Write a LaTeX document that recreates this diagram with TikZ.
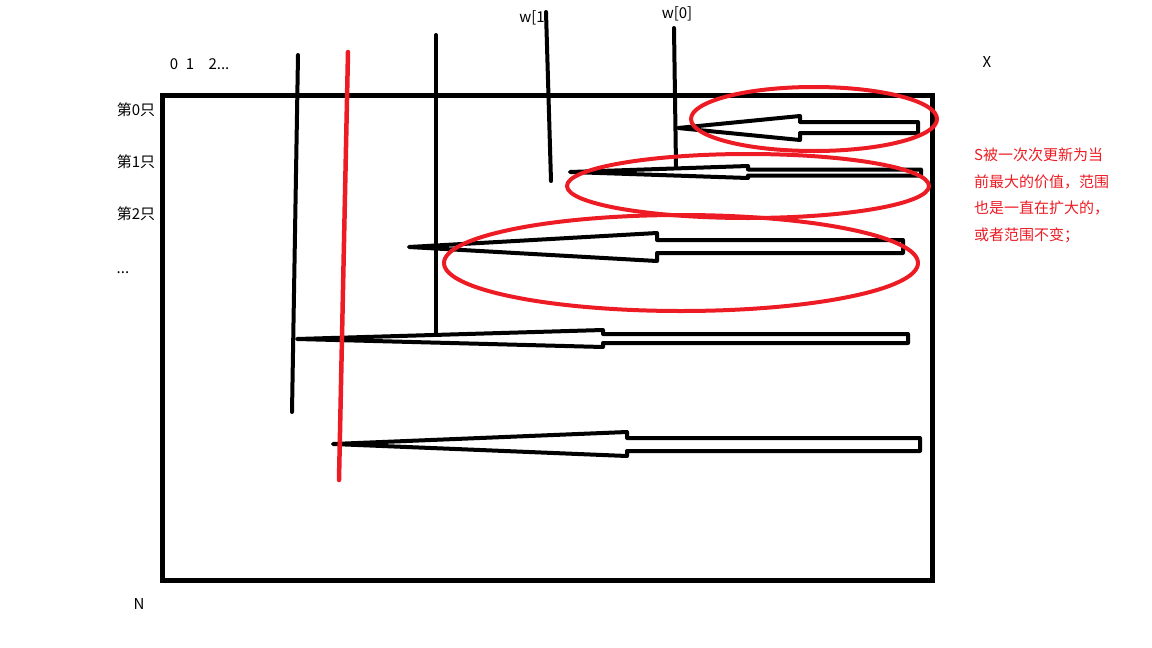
\documentclass[tikz,border=0pt]{standalone}
\usepackage{fontspec}
\newfontfamily\cjk{Noto Sans CJK SC}
\definecolor{paintred}{RGB}{237,28,36}

\tikzstyle{frame} = [line width=5pt, draw=black]
\tikzstyle{pen} = [line width=4pt, draw=black, line cap=round]
\tikzstyle{redpen} = [line width=4.5pt, draw=paintred, line cap=round]
\tikzstyle{hollow} = [line width=4pt, draw=black, fill=white, line join=round]
\tikzstyle{lbl} = [font=\cjk\fontsize{15}{17}\selectfont, inner sep=0pt]

\begin{document}
\begin{tikzpicture}[x=1pt, y=-1pt]
\useasboundingbox (0,0) rectangle (1152,648);

%Grid
\draw [frame] (162,95) rectangle (932,580);

%Axis labels
\node (c0) [lbl] at (174,64) {0};
\node (c1) [lbl] at (190,64) {1};
\node (c2) [lbl] at (219,64) {2...};
\node (X) [lbl] at (987,62) {X};
\node (N) [lbl] at (139,604) {N};
\node (r0) [lbl] at (136,110) {第0只};
\node (r1) [lbl] at (136,162) {第1只};
\node (r2) [lbl] at (136,214) {第2只};
\node (rd) [lbl] at (123,273) {...};
\node (w1) [lbl] at (532,18) {w[1};
\node (w0) [lbl] at (677,14) {w[0]};

%Capacity lines
\draw [pen] (298,55) -- (292,412);
\draw [pen] (436,35) -- (436,333);
\draw [pen] (546,12) -- (551,181);
\draw [pen] (674,28) -- (676,166);

%Arrows
\draw [hollow] (678,128) -- (800,116) -- (800,122) -- (918,122) -- (918,133) -- (800,133) -- (800,140) -- cycle;
\draw [hollow] (570,172) -- (748,166) -- (748,169.5) -- (921,169.5) -- (921,175.5) -- (748,175.5) -- (748,178) -- cycle;
\draw [hollow] (409,247) -- (657,233) -- (657,240) -- (903,240) -- (903,253) -- (657,253) -- (657,261) -- cycle;
\draw [hollow] (297,339) -- (603,330) -- (603,334) -- (908,334) -- (908,343) -- (603,343) -- (603,347) -- cycle;
\draw [hollow] (333,444) -- (627,432) -- (627,438) -- (920,438) -- (920,451) -- (627,451) -- (627,456) -- cycle;

%Current line
\draw [redpen] (348,52) -- (339,480);

%Ranges
\draw [redpen, line width=4pt] (814,119) ellipse [x radius=123, y radius=32];
\draw [redpen, line width=4pt] (748,186) ellipse [x radius=181, y radius=32];
\draw [redpen, line width=4pt] (681,263) ellipse [x radius=237, y radius=48];

%Note
\node (note) [lbl, anchor=north west, align=left, text=paintred, font=\cjk\fontsize{15}{26.5}\selectfont] at (974,148)
  {S被一次次更新为当\\前最大的价值，范围\\也是一直在扩大的，\\或者范围不变；};

\end{tikzpicture}
\end{document}
